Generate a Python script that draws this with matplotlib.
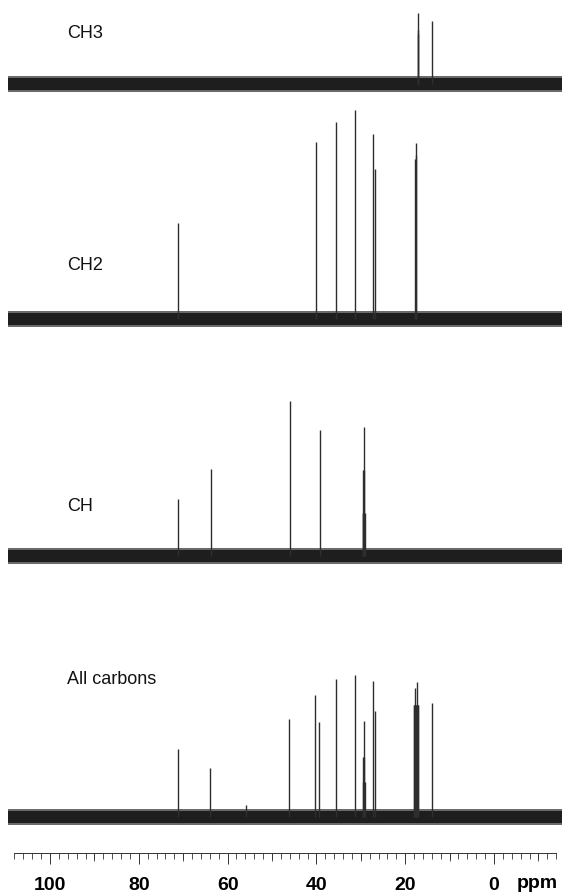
import numpy as np
import matplotlib
matplotlib.use("Agg")
import matplotlib.pyplot as plt
from matplotlib.ticker import FixedLocator, FuncFormatter

plt.rcParams['font.family'] = ['Liberation Sans', 'DejaVu Sans']

# peak positions (ppm) and heights (arbitrary units)
ch3_ppm = [17.2, 17.15, 17.05, 14.0]
ch3_int = [50, 71, 54, 63]

ch2_ppm = [71.1, 40.2, 35.5, 31.2, 27.3, 26.7, 17.75, 17.65, 17.5]
ch2_int = [96, 177, 197, 209, 185, 150, 160, 176, 164]

ch_ppm = [71.2, 63.7, 46.0, 39.2, 29.6, 29.5, 29.4, 29.3, 29.2, 29.1]
ch_int = [57, 87, 155, 126, 43, 43, 86, 129, 86, 43]

all_ppm = [71.2, 63.9, 55.9, 46.1, 40.3, 39.4, 35.6, 31.3,
           29.5, 29.4, 29.3, 29.2, 29.1,
           27.3, 26.9,
           18.1, 18.0, 17.9, 17.8, 17.7, 17.6, 17.5, 17.4, 17.3, 17.2, 17.1,
           14.0]
all_int = [68, 49, 12, 98, 122, 95, 138, 142,
           35, 60, 96, 60, 35,
           136, 106,
           112, 112, 112, 112, 129, 112, 112, 135, 112, 112, 112,
           114]

labels = ['CH3', 'CH2', 'CH', 'All carbons']
tick_values = [100, 80, 60, 40, 20, 0]

# layout (pixels)
W, H = 564, 893
PX_PER_PPM = 4.44
X0 = 494  # pixel column of 0 ppm
XLIM = (X0 / PX_PER_PPM, (X0 - W) / PX_PER_PPM)
TRACE = (109.5, -15.3)

# (top px, bottom px, baseline px, label y px)
layout = [(0, 105, 84, 33), (105, 340, 319, 265),
          (340, 580, 556, 507), (580, 845, 817, 680)]
series = [(ch3_ppm, ch3_int), (ch2_ppm, ch2_int), (ch_ppm, ch_int), (all_ppm, all_int)]

fig = plt.figure(figsize=(W / 100, H / 100), dpi=100)

for (top, bot, base, ly), (ppm, inten), label in zip(layout, series, labels):
    ax = fig.add_axes([0, 1 - bot / H, 1, (bot - top) / H])
    ax.set_xlim(XLIM)
    ax.set_ylim(-(bot - base), base - top)
    ax.set_axis_off()
    # baseline noise band
    ax.fill_between(TRACE, -8, 8, color='#6a6a6a', lw=0)
    ax.fill_between(TRACE, -6, 6, color='#1e1e1e', lw=0)
    ax.vlines(ppm, 0, inten, colors='#2e2e2e', lw=1.0)
    ax.text((X0 - 67) / PX_PER_PPM, base - ly, label, fontsize=13,
            ha='left', va='center', color='#111111')

# ppm scale
tax = fig.add_axes([0, 1 - 853 / H, 1, 0.0005])
tax.set_xlim(XLIM)
tax.set_yticks([])
for s in ['left', 'right', 'top']:
    tax.spines[s].set_visible(False)
tax.spines['bottom'].set_bounds(108, -14)
tax.spines['bottom'].set_linewidth(0.7)
tax.spines['bottom'].set_color('#333333')
tax.xaxis.set_major_locator(FixedLocator(tick_values))
tax.xaxis.set_minor_locator(FixedLocator(np.arange(-14, 109, 2)))
tax.xaxis.set_major_formatter(FuncFormatter(lambda v, p: f'{int(round(v))}'))
tax.tick_params(which='major', length=8, width=0.7, color='#333333', pad=9,
                labelsize=14)
tax.tick_params(which='minor', length=4.5, width=0.6, color='#333333')
for t in tax.get_xticklabels():
    t.set_fontweight('bold')

# medium ticks every 10 ppm
sec = tax.secondary_xaxis('bottom')
sec.set_xticks([90, 70, 50, 30, 10, -10])
sec.tick_params(length=6, width=0.6, color='#333333', labelbottom=False)
sec.spines['bottom'].set_visible(False)

fig.text(537 / W, 1 - 884 / H, 'ppm', ha='center', va='center',
         fontsize=14, fontweight='bold')

fig.savefig('out.png', dpi=100)
